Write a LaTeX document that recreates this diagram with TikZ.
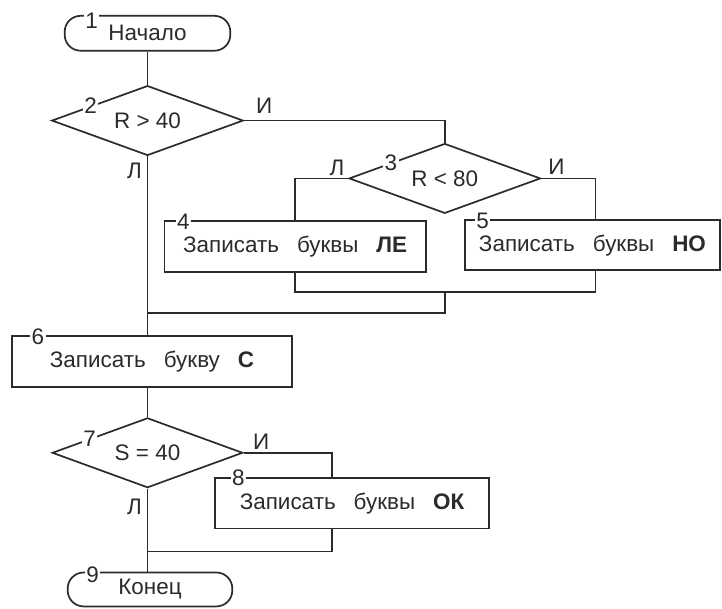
\documentclass[tikz,border=0pt]{standalone}
\usepackage{fontspec}
\setmainfont{Liberation Sans}
\usetikzlibrary{shapes.geometric,calc}
\definecolor{ink}{HTML}{2B2B2B}
\begin{document}
\begin{tikzpicture}[x=1pt,y=-1pt,
  every path/.style={draw=ink, line width=1.7pt},
  txt/.style={font=\fontsize{22.5}{26}\selectfont, text=ink},
  term/.style={txt, draw=ink, line width=1.7pt, rounded corners=16pt, inner sep=0pt},
  proc/.style={txt, draw=ink, line width=1.7pt, inner sep=0pt},
  decis/.style={txt, draw=ink, line width=1.7pt, shape=diamond, shape aspect=2.74, inner sep=0pt, minimum width=192pt, minimum height=70pt},
  num/.style={txt, fill=white, inner sep=1.5pt},
  lbl/.style={txt, inner sep=0pt}]
\useasboundingbox (0,0) rectangle (722,608);
\fill[white] (0,0) rectangle (722,608);
% shapes
\node[term, minimum width=166pt, minimum height=35pt] (t1) at (147,32.5) {\raisebox{-2.5pt}{Начало}};
\node[decis] (d2) at (147,120) {\raisebox{-2pt}{R > 40}};
\node[decis] (d3) at (445,178) {\raisebox{-2pt}{R < 80}};
\node[proc, minimum width=262pt, minimum height=51pt] (b4) at (295,246.5) {Записать\hspace{0.8em}буквы\hspace{0.8em}\textbf{ЛЕ}};
\node[proc, minimum width=256pt, minimum height=50pt] (b5) at (593,245) {Записать\hspace{0.8em}буквы\hspace{0.8em}\textbf{НО}};
\node[proc, minimum width=281pt, minimum height=51pt] (b6) at (151.5,361.5) {Записать\hspace{0.8em}букву\hspace{0.8em}\textbf{С}};
\node[decis, minimum width=191pt] (d7) at (147,453) {\raisebox{-2pt}{S = 40}};
\node[proc, minimum width=274pt, minimum height=51pt] (b8) at (352,503.5) {Записать\hspace{0.8em}буквы\hspace{0.8em}\textbf{ОК}};
\node[term, minimum width=165pt, minimum height=34pt] (t9) at (149.5,590) {\raisebox{-2.5pt}{Конец}};
% junctions
\coordinate (j1) at (445,292);
\coordinate (j2) at (147,313);
\coordinate (j3) at (147,552);
% connectors
\draw (t1.south) -- (d2.north);
\draw (d2.east) -| (d3.north);
\draw (d3.west) -| (b4.north);
\draw (d3.east) -| ($(b5.north west)!0.512!(b5.north east)$);
\draw (b4.south) |- (j1);
\draw ($(b5.south west)!0.512!(b5.south east)$) |- (j1);
\draw (j1) |- (j2);
\draw (d2.south) -- (d2.south |- b6.north);
\draw (d2.south |- b6.south) -- (d7.north);
\draw (d7.east) -| ($(b8.north west)!0.427!(b8.north east)$);
\draw ($(b8.south west)!0.427!(b8.south east)$) |- (j3);
\draw (d7.south) -- (d7.south |- t9.north);
% branch labels
\node[lbl] (li1) at (264,105) {И};
\node[lbl] (ll1) at (134,170) {Л};
\node[lbl] (ll2) at (337,167) {Л};
\node[lbl] (li2) at (557,166) {И};
\node[lbl] (li3) at (261,442) {И};
\node[lbl] (ll3) at (134,507) {Л};
% block numbers
\node[num] (n1) at (91,20) {1};
\node[num] (n2) at (90,105.5) {2};
\node[num] (n3) at (391,162) {3};
\node[num] (n4) at (183,221.5) {4};
\node[num] (n5) at (483,221) {5};
\node[num] (n6) at (37,337) {6};
\node[num] (n7) at (89,438.5) {7};
\node[num] (n8) at (238,478) {8};
\node[num] (n9) at (92,575) {9};
\end{tikzpicture}
\end{document}
